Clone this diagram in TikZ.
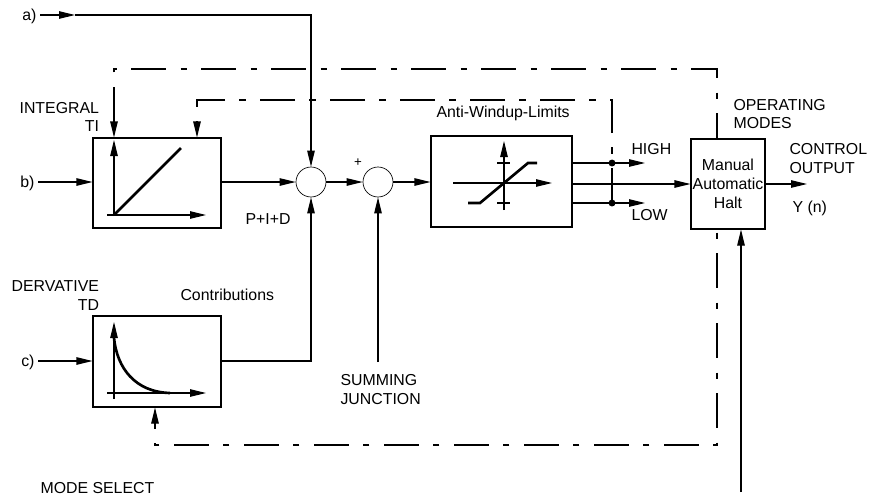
\documentclass[tikz,border=0pt]{standalone}
\usepackage{fontspec}
\setmainfont{Liberation Sans}
\usetikzlibrary{arrows.meta}
\begin{document}
\begin{tikzpicture}[x=0.75pt,y=-0.75pt,
  line width=0.8pt,
  >={Triangle[length=12pt,width=5.6pt]},
  lab/.style={font=\fontsize{11.9pt}{14.2pt}\selectfont, inner sep=0pt},
  blk/.style={draw, fill=white, inner sep=0pt, line width=0.8pt},
  sumc/.style={circle, draw, inner sep=0pt, minimum size=22.5pt, line width=0.5pt},
  dd/.style={dash pattern=on 26pt off 11pt on 5pt off 10.5pt},
  thickcurve/.style={line width=2pt},
  dotc/.style={circle, fill, inner sep=0pt, minimum size=5.2pt}
]
\useasboundingbox (0,0) rectangle (878,501);

% blocks
\node[blk, minimum width=96pt, minimum height=67.5pt] (int) at (157,183) {};
\node[blk, minimum width=96pt, minimum height=68.25pt] (der) at (157,361.5) {};
\node[blk, minimum width=105.75pt, minimum height=68.25pt] (lim) at (501.5,181.5) {};
\node[sumc] (s1) at (311,182) {};
\node[sumc] (s2) at (378,182) {};

% coordinates
\coordinate (a0) at (40,15);
\coordinate (a1) at (75,15);
\coordinate (b0) at (38,182);
\coordinate (c0) at (38,361);
\coordinate (hi) at (612,163);
\coordinate (lo) at (612,203);
\coordinate (hiend) at (645,163);
\coordinate (loend) at (645,203);
\coordinate (yout) at (807,184);
\coordinate (ms) at (741,492);
\coordinate (sj) at (378,362);
\coordinate (oTL) at (114,69);
\coordinate (oTR) at (717,69);
\coordinate (oBR) at (717,445);
\coordinate (oBL) at (155,445);
\coordinate (iTL) at (197,100);
\coordinate (iTR) at (612,100);

% dash-dot loops
\draw[dd,<->] (oTL |- int.north) -- (oTL) -- (oTR) -- (oBR) -- (oBL) -- (oBL |- der.south);
\draw[dd,->] (lo) -- (iTR) -- (iTL) -- (iTL |- int.north);

% mode box
\node[blk, lab, minimum width=55.5pt, minimum height=67.5pt, align=center] (mode) at (728,184) {Manual\\Automatic\\Halt};

% integral graph
\draw[->] (114,216) -- (114,140);
\draw[->] (107,215) -- (206,215);
\draw[thickcurve] (114,215) -- (181,148);

% derivative graph
\draw[->] (114,399) -- (114,322);
\draw[->] (107,393) -- (206,393);
\draw[thickcurve] (114,338) .. controls (117,368) and (135,392) .. (170,393);

% limiter graph
\draw[->] (504,210) -- (504,141);
\draw[->] (453,183) -- (552,183);
\draw (497,163) -- (510,163);
\draw (497,203) -- (510,203);
\draw[thickcurve] (468,203) -- (480,203) -- (528,163) -- (537,163);

% connectors
\draw[->] (a0) -- (a1);
\draw[->] (a1) -| (s1.north);
\draw[->] (b0) -- (b0 -| int.west);
\draw[->] (c0) -- (c0 -| der.west);
\draw[->] (int.east |- s1.west) -- (s1.west);
\draw[->] (der.east |- c0) -| (s1.south);
\draw[->] (s1.east) -- (s2.west);
\draw[->] (sj) -- (s2.south);
\draw[->] (s2.east) -- (s2.east -| lim.west);
\draw[->] (lim.east |- hi) -- (hiend);
\draw[->] (lim.east |- lo) -- (loend);
\draw[->] (lim.east |- mode.west) -- (mode.west);
\draw[->] (mode.east) -- (yout);
\draw[->] (ms) -- (ms |- mode.south);
\node[dotc] (dhi) at (hi) {};
\node[dotc] (dlo) at (lo) {};

% labels
\node[lab, anchor=base east] (ta) at (37,20) {a)};
\node[lab, anchor=base east] (tb) at (35,187) {b)};
\node[lab, anchor=base east] (tc) at (35,366) {c)};
\node[lab, anchor=base east] (tint) at (99.5,113) {INTEGRAL};
\node[lab, anchor=base east] (tti) at (99.5,131) {TI};
\node[lab, anchor=base east] (tder) at (99.5,291) {DERVATIVE};
\node[lab, anchor=base east] (ttd) at (99.5,310) {TD};
\node[lab, anchor=base west] (tcon) at (180,300) {Contributions};
\node[lab, anchor=base west] (tpid) at (245,224) {P+I+D};
\node[font=\fontsize{10pt}{12pt}\selectfont, inner sep=0pt] (tplus) at (358,163) {+};
\node[lab, anchor=base west] (taw) at (436,117) {Anti-Windup-Limits};
\node[lab, anchor=base west] (thigh) at (631,154) {HIGH};
\node[lab, anchor=base west] (tlow) at (631,220) {LOW};
\node[lab, anchor=base west] (top1) at (733,110) {OPERATING};
\node[lab, anchor=base west] (top2) at (733,128) {MODES};
\node[lab, anchor=base west] (tco1) at (789,154) {CONTROL};
\node[lab, anchor=base west] (tco2) at (789,173) {OUTPUT};
\node[lab, anchor=base west] (ty) at (792,212) {Y (n)};
\node[lab, anchor=base west] (tsj1) at (340,385) {SUMMING};
\node[lab, anchor=base west] (tsj2) at (340,404) {JUNCTION};
\node[lab, anchor=base west] (tms) at (40,493) {MODE SELECT};
\end{tikzpicture}
\end{document}
